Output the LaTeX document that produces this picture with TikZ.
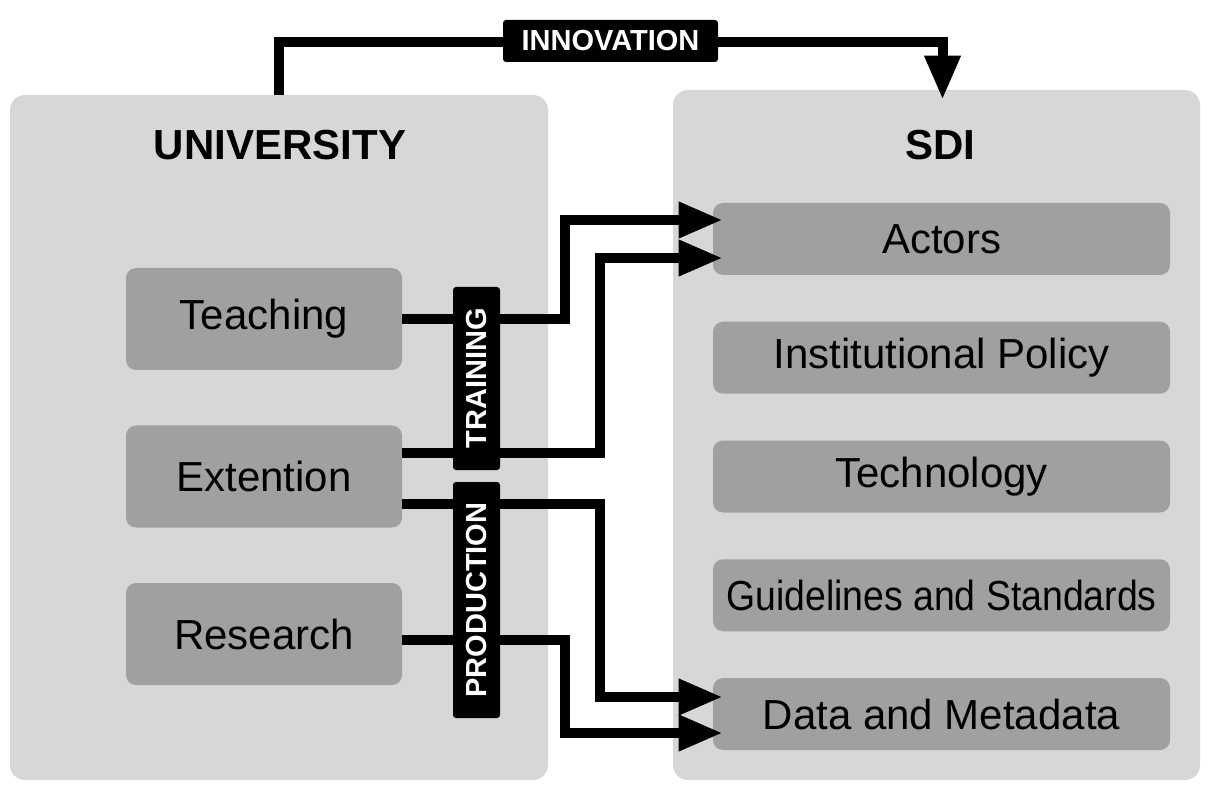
\documentclass[tikz,border=0pt]{standalone}
\usepackage{fontspec}
\setmainfont{Liberation Sans}
\newfontfamily\narrowfont[FakeStretch=0.89]{Liberation Sans}
\usetikzlibrary{arrows.meta, positioning}
\definecolor{lightbox}{HTML}{D7D7D7}
\definecolor{darkbox}{HTML}{A0A0A0}
\tikzstyle{group} = [rectangle, rounded corners=7.5pt, 
fill=lightbox, 
inner sep=0pt]
\tikzstyle{title} = [font=\fontsize{21}{24}\selectfont\bfseries]
\tikzstyle{unibox} = [rectangle, rounded corners=5pt, 
minimum width=138pt, 
minimum height=51pt, 
fill=darkbox, 
font=\fontsize{21}{24}\selectfont]
\tikzstyle{sdibox} = [rectangle, rounded corners=5pt, 
minimum width=228.5pt, 
minimum height=36pt, 
fill=darkbox, 
node distance=59.375pt, 
font=\fontsize{21}{24}\selectfont]
\tikzstyle{tag} = [rectangle, rounded corners=1.5pt, 
fill=black, text=white, 
inner sep=0pt, 
font=\fontsize{14.5}{16}\selectfont\bfseries]
\tikzstyle{arrow} = [line width=5pt,-{Triangle[length=22pt, width=17pt]}]

\begin{document}
\begin{tikzpicture}[x=0.5pt, y=-0.5pt, node distance=78.75pt]
		\useasboundingbox (0,0) rectangle (1208,785);
		
		\node (univ) [group, minimum width=269pt, minimum height=342.5pt] at (279,437.5) {};
		\node (sdi) [group, minimum width=263.5pt, minimum height=345pt] at (936.5,435) {};
		\node (unititle) [title] at (280,145) {UNIVERSITY};
		\node (sdititle) [title] at (940,145) {SDI};
		
		\node (teach) [unibox] at (264,319) {Teaching};
		\node (ext) [unibox, below of=teach] {Extention};
		\node (res) [unibox, below of=ext] {Research};
		
		\node (actors) [sdibox] at (941.5,239) {Actors};
		\node (policy) [sdibox, below of=actors] {Institutional Policy};
		\node (tech) [sdibox, below of=policy] {Technology};
		\node (guide) [sdibox, below of=tech, font=\narrowfont\fontsize{21}{24}\selectfont] {Guidelines and Standards};
		\node (data) [sdibox, below of=guide] {Data and Metadata};
		
		\draw [arrow] (univ.north) -- ++(0,-53) -| ([xshift=3pt,yshift=-5pt]sdi.north);
		\draw [arrow] (teach.east) -- ++(163,0) |- ([xshift=5pt,yshift=9.5pt]actors.west);
		\draw [arrow] ([yshift=12pt]ext.east) -- ++(198,0) |- ([xshift=5pt,yshift=-9.5pt]actors.west);
		\draw [arrow] ([yshift=-13.5pt]ext.east) -- ++(198,0) |- ([xshift=5pt,yshift=8.5pt]data.west);
		\draw [arrow] ([yshift=-3pt]res.east) -- ++(163,0) |- ([xshift=5pt,yshift=-9.5pt]data.west);
		
		\node (innovation) [tag, minimum width=107.5pt, minimum height=21pt] at (610.5,41) {INNOVATION};
		\node (training) [tag, rotate=90, minimum width=91.5pt, minimum height=23.5pt] at (476.5,378.5) {TRAINING};
		\node (production) [tag, rotate=90, minimum width=118pt, minimum height=23.5pt] at (476.5,600) {PRODUCTION};
		
	\end{tikzpicture}
\end{document}
